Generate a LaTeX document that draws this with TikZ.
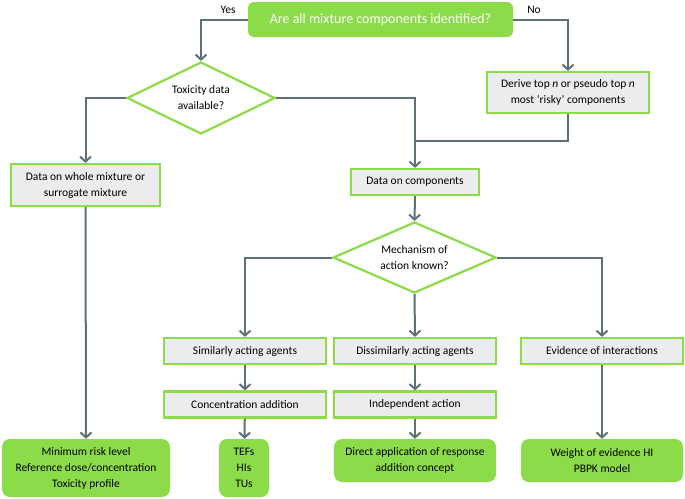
\documentclass[tikz,border=0pt]{standalone}
\usepackage{fontspec}
\setmainfont{Carlito}
\usepackage{tikz}
\usetikzlibrary{shapes.geometric, arrows.meta, positioning, calc}
\definecolor{limegreen}{RGB}{140,219,72}
\definecolor{boxgray}{RGB}{234,236,237}
\definecolor{slate}{RGB}{95,111,121}
\tikzset{
    question/.style={rectangle, rounded corners=6pt, fill=limegreen, text=white, align=center, font=\fontsize{14}{16}\selectfont},
    decision/.style={diamond, draw=limegreen, line width=2.2pt, fill=white, aspect=2, inner sep=0pt, align=center},
    box/.style={rectangle, draw=limegreen, line width=2.2pt, fill=boxgray, align=center, minimum height=26pt},
    result/.style={rectangle, rounded corners=8pt, fill=limegreen, align=center},
    arrow/.style={-{Straight Barb[length=5pt, width=11pt]}, draw=slate, line width=2pt},
    link/.style={draw=slate, line width=2pt}
}

\begin{document}
\begin{tikzpicture}[x=1pt, y=-1pt, font=\fontsize{11.5}{16}\selectfont]
    \useasboundingbox (0,0) rectangle (685,498);

    % --- Top question ---
    \node (top) [question, minimum width=265pt, minimum height=35pt] at (380.5,19.5) {Are all mixture components identified?};
    \node (yes) at (228,10) {Yes};
    \node (no) at (534,10) {No};

    % --- Second level ---
    \node (tox) [decision, minimum width=148pt, minimum height=72pt] at (201,98) {Toxicity data\\available?};
    \node (derive) [box, minimum width=162pt, minimum height=41pt] at (568,92.5) {Derive top \textit{n} or pseudo top \textit{n}\\most ‘risky’ components};
    \coordinate (join) at (415,141);

    \node (whole) [box, minimum width=149pt, minimum height=42pt] at (85.5,185) {Data on whole mixture or\\surrogate mixture};
    \node (comp) [box, minimum width=128pt] at (415,182) {Data on components};
    \node (mech) [decision, minimum width=163pt, minimum height=71pt] at (414.5,257.5) {Mechanism of\\action known?};

    % --- Agent rows ---
    \node (simil) [box, minimum width=162pt] at (245,351) {Similarly acting agents};
    \node (dissim) [box, minimum width=162pt] at (415,351) {Dissimilarly acting agents};
    \node (evid) [box, minimum width=162pt] at (602,351) {Evidence of interactions};
    \node (conc) [box, minimum width=162pt, below=53.5pt of simil.center, anchor=center] {Concentration addition};
    \node (indep) [box, minimum width=162pt, below=53.5pt of dissim.center, anchor=center] {Independent action};

    % --- Outcomes ---
    \node (minim) [result, minimum width=168pt, minimum height=58pt] at (86,468) {Minimum risk level\\Reference dose/concentration\\Toxicity profile};
    \node (tefs) [result, minimum width=50pt, minimum height=58pt] at (244,468) {TEFs\\HIs\\TUs};
    \node (direct) [result, minimum width=162pt, minimum height=43pt] at (415,460.5) {Direct application of response\\addition concept};
    \node (weight) [result, minimum width=162pt, minimum height=43pt] at (602,460.5) {Weight of evidence HI\\PBPK model};

    % --- Connectors ---
    \draw [arrow] (top.west) -| (tox.north);
    \draw [arrow] (top.east) -| (derive.north);
    \draw [arrow] (tox.west) -| (whole.north);
    \draw [arrow] (tox.east) -| (comp.north);
    \draw [link] (derive.south) |- (join);
    \draw [arrow] (whole.south) -- (minim.north);
    \draw [arrow] (comp.south) -- (mech.north);

    \draw [arrow] (mech.west) -| (simil.north);
    \draw [arrow] (mech.south) -- (dissim.north);
    \draw [arrow] (mech.east) -| (evid.north);

    \draw [arrow] (simil) -- (conc);
    \draw [arrow] (conc) -- (tefs);
    \draw [arrow] (dissim) -- (indep);
    \draw [arrow] (indep) -- (direct);
    \draw [arrow] (evid) -- (weight);
\end{tikzpicture}
\end{document}
